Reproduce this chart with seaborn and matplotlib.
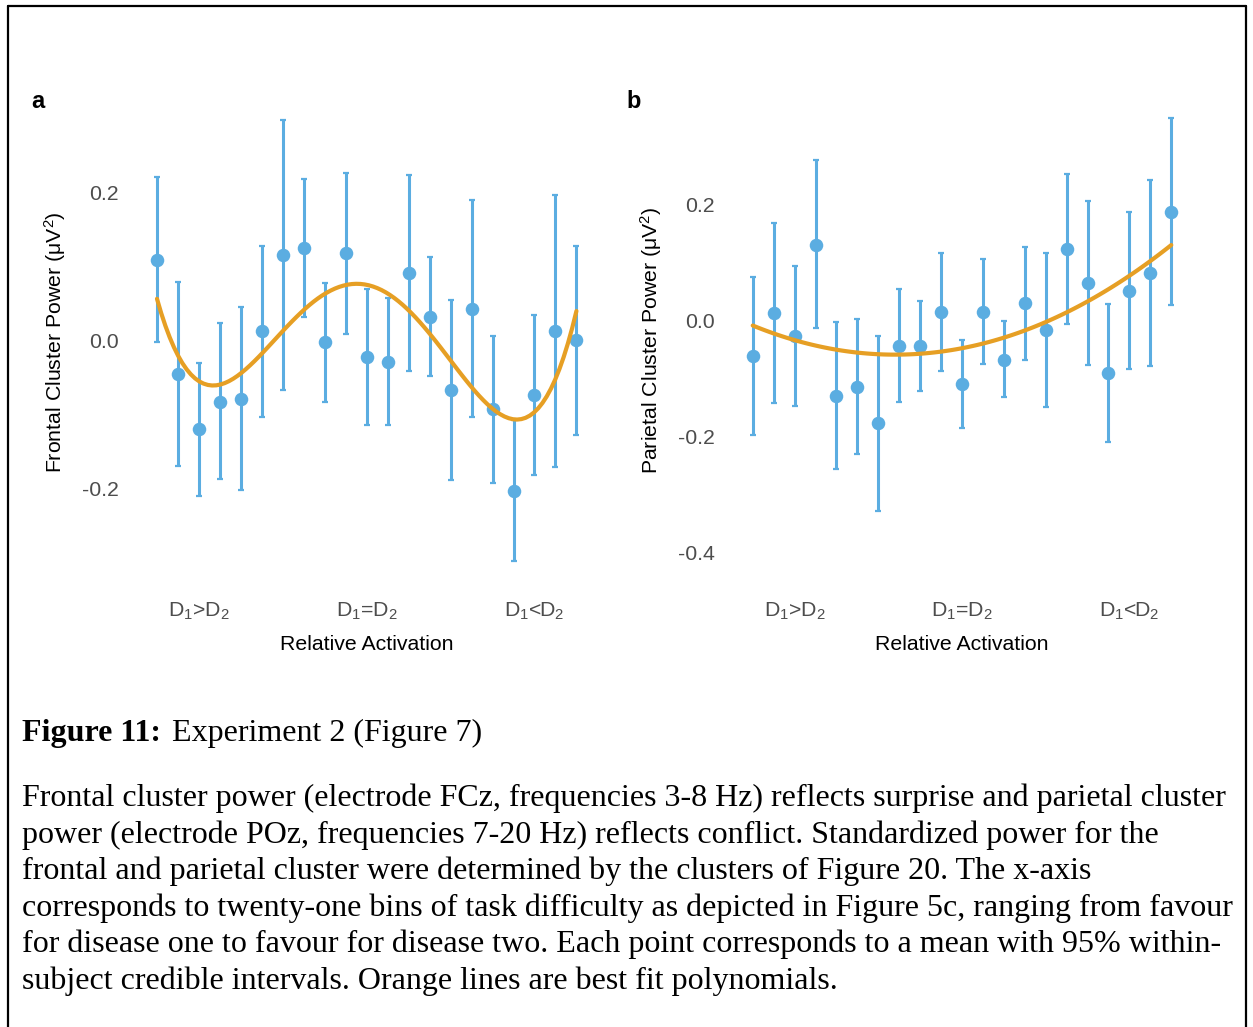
import numpy as np
import pandas as pd
import matplotlib
matplotlib.use("Agg")
import matplotlib.pyplot as plt
from matplotlib.lines import Line2D
import seaborn as sns

# Twenty-one difficulty bins, from favouring disease one to favouring disease two
bins = list(range(-10, 11))
tick_positions = [-8, 0, 8]
tick_labels = ["D$_1$>D$_2$", "D$_1$=D$_2$", "D$_1$<D$_2$"]

# Frontal cluster (FCz, 3-8 Hz): means with 95% within-subject credible intervals
frontal_mean = [0.110, -0.045, -0.119, -0.082, -0.078, 0.013, 0.116, 0.126, -0.002, 0.119, -0.022,
                -0.028, 0.092, 0.033, -0.066, 0.043, -0.092, -0.203, -0.073, 0.014, 0.001]
frontal_low = [-0.001, -0.169, -0.209, -0.187, -0.202, -0.103, -0.066, 0.033, -0.082, 0.009, -0.114,
               -0.114, -0.040, -0.047, -0.188, -0.103, -0.192, -0.297, -0.181, -0.170, -0.127]
frontal_high = [0.222, 0.080, -0.030, 0.024, 0.046, 0.129, 0.299, 0.219, 0.079, 0.227, 0.070,
                0.058, 0.225, 0.114, 0.056, 0.190, 0.007, -0.107, 0.035, 0.197, 0.129]

# Parietal cluster (POz, 7-20 Hz)
parietal_mean = [-0.061, 0.013, -0.026, 0.131, -0.130, -0.114, -0.177, -0.044, -0.044, 0.014, -0.109,
                 0.015, -0.068, 0.030, -0.016, 0.123, 0.065, -0.091, 0.051, 0.082, 0.188]
parietal_low = [-0.198, -0.142, -0.148, -0.013, -0.257, -0.230, -0.328, -0.141, -0.122, -0.087, -0.185,
                -0.075, -0.132, -0.068, -0.149, -0.006, -0.076, -0.209, -0.083, -0.078, 0.027]
parietal_high = [0.075, 0.169, 0.094, 0.277, -0.003, 0.003, -0.026, 0.054, 0.034, 0.116, -0.034,
                 0.106, -0.001, 0.127, 0.116, 0.252, 0.206, 0.028, 0.188, 0.243, 0.350]

frontal_order = 4
parietal_order = 2

caption_title = "Figure 11:"
caption_subtitle = "Experiment 2 (Figure 7)"
caption_lines = [
    "Frontal cluster power (electrode FCz, frequencies 3-8 Hz) reflects surprise and parietal cluster",
    "power (electrode POz, frequencies 7-20 Hz) reflects conflict. Standardized power for the",
    "frontal and parietal cluster were determined by the clusters of Figure 20. The x-axis",
    "corresponds to twenty-one bins of task difficulty as depicted in Figure 5c, ranging from favour",
    "for disease one to favour for disease two. Each point corresponds to a mean with 95% within-",
    "subject credible intervals. Orange lines are best fit polynomials.",
]

BLUE = "#5BADE1"
ORANGE = "#E69F24"
GREY = "#4D4D4D"
LABEL_SIZE = 15.3
CAPTION_SIZE = 23.0

sns.set_theme(style="white")
plt.rcParams["font.family"] = ["Liberation Sans", "DejaVu Sans"]
plt.rcParams["mathtext.fontset"] = "custom"
plt.rcParams["mathtext.rm"] = "Liberation Sans"
plt.rcParams["mathtext.it"] = "Liberation Sans:italic"
plt.rcParams["mathtext.default"] = "regular"

W, H = 1253, 1027
fig = plt.figure(figsize=(W / 100, H / 100), dpi=100)
fig.patch.set_facecolor("white")


def fx(px):
    return px / W


def fy(py):
    return 1 - py / H


def panel(rect_px, mean, low, high, order, ylim, yticks, ylabel, ylabel_xy, letter_xy, letter,
          xcenter, xpad):
    left, top, right, bottom = rect_px
    ax = fig.add_axes([fx(left), fy(bottom), (right - left) / W, (bottom - top) / H])
    df = pd.DataFrame({"bin": bins, "mean": mean, "low": low, "high": high})
    err = np.vstack([df["mean"] - df["low"], df["high"] - df["mean"]])
    ax.errorbar(df["bin"], df["mean"], yerr=err, fmt="none", ecolor=BLUE,
                elinewidth=2.2, capsize=2.2, capthick=1.6, zorder=2)
    sns.scatterplot(data=df, x="bin", y="mean", ax=ax, color=BLUE, s=95,
                    linewidth=0, zorder=3)
    sns.regplot(data=df, x="bin", y="mean", ax=ax, order=order, ci=None,
                scatter=False, truncate=True,
                line_kws=dict(color=ORANGE, lw=3.0, zorder=4))
    ax.set_xlim(-11, 11)
    ax.set_ylim(*ylim)
    ax.set_xticks(tick_positions)
    ax.set_xticklabels(tick_labels)
    ax.set_yticks(yticks)
    ax.set_yticklabels([f"{t:.1f}" for t in yticks])
    ax.tick_params(axis="both", length=0, colors=GREY, labelsize=LABEL_SIZE)
    ax.tick_params(axis="y", pad=12.5)
    ax.tick_params(axis="x", pad=xpad)
    ax.set_xlabel("")
    ax.set_ylabel("")
    for s in ax.spines.values():
        s.set_visible(False)
    ax.grid(False)
    fig.text(fx(ylabel_xy[0]), fy(ylabel_xy[1]), ylabel, rotation=90,
             ha="center", va="center", fontsize=LABEL_SIZE, color="black")
    fig.text(fx(xcenter), fy(649.5), "Relative Activation", ha="center",
             va="baseline", fontsize=LABEL_SIZE, color="black")
    fig.text(fx(letter_xy[0]), fy(letter_xy[1]), letter, ha="left", va="baseline",
             fontsize=17, fontweight="bold", color="black")
    return ax


panel((136.0, 96.8, 597.4, 585.2), frontal_mean, frontal_low, frontal_high,
      frontal_order, (-0.330, 0.330), [-0.2, 0.0, 0.2],
      "Frontal Cluster Power ($\\mu$V$^2$)", (55, 342), (31, 108), "a", 367, 11.5)

panel((731.8, 96.8, 1192.2, 586.5), parietal_mean, parietal_low, parietal_high,
      parietal_order, (-0.459, 0.386), [-0.4, -0.2, 0.0, 0.2],
      "Parietal Cluster Power ($\\mu$V$^2$)", (651, 340), (626, 108), "b", 962, 10.0)

# Caption below the panels
serif = ["Liberation Serif", "DejaVu Serif"]
fig.text(fx(22), fy(741), caption_title, family=serif, fontsize=CAPTION_SIZE,
         fontweight="bold", ha="left", va="baseline", color="black")
fig.text(fx(172), fy(741), caption_subtitle, family=serif, fontsize=CAPTION_SIZE,
         ha="left", va="baseline", color="black")
baselines = 806 + 36.6 * np.arange(len(caption_lines))
for line, b in zip(caption_lines, baselines):
    fig.text(fx(22), fy(b), line, family=serif, fontsize=CAPTION_SIZE, ha="left",
             va="baseline", color="black")

# Frame around the figure
for xs, ys in [((7.5, 7.5), (6, 1027)), ((7.5, 1246), (6, 6)), ((1246, 1246), (6, 1027))]:
    fig.add_artist(Line2D([fx(x) for x in xs], [fy(y) for y in ys],
                          color="black", lw=1.6, transform=fig.transFigure))

fig.savefig("out.png", dpi=100)
